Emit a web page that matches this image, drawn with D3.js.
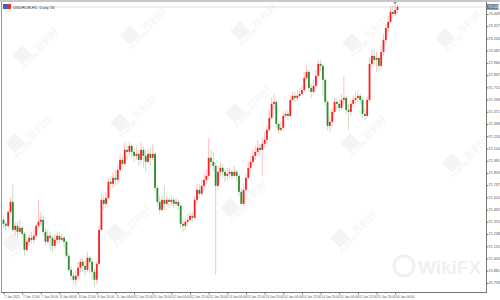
<!DOCTYPE html>
<html>
<head>
<meta charset="utf-8">
<script src="https://cdn.jsdelivr.net/npm/d3@7"></script>
<style>
  body { margin: 0; background: #fff; }
  svg { display: block; font-family: "Liberation Sans Narrow", "Liberation Sans", sans-serif; }
</style>
</head>
<body>
<div id="canvas"></div>
<script>
// USDRUB H1 candles (open = previous close)
var firstOpen = 71.39;
var closes = [71.35,71.33,71.47,71.57,71.29,71.33,71.27,71.31,71.25,71.09,
  71.17,71.21,71.19,71.23,71.33,71.37,71.39,71.27,71.17,71.23,
  71.21,71.13,71.19,71.23,71.19,71.21,71.17,71.03,70.89,70.83,
  70.79,70.83,70.91,70.97,70.93,70.89,71.01,70.97,70.87,70.79,
  70.95,71.29,71.59,71.55,71.61,71.77,71.75,71.81,71.79,71.89,
  71.99,71.95,72.09,72.07,72.13,72.07,72.03,72.05,71.99,72.09,
  72.03,71.97,72.05,72.01,72.05,71.71,71.57,71.49,71.59,71.55,
  71.59,71.57,71.59,71.55,71.57,71.53,71.35,71.33,71.37,71.39,
  71.43,71.41,71.59,71.69,71.65,71.73,71.79,71.83,72.01,71.97,
  71.93,71.73,71.87,71.91,71.87,71.83,71.85,71.87,71.83,71.87,
  71.83,71.67,71.55,71.69,71.81,71.91,71.97,72.03,72.07,72.11,
  72.09,72.15,72.19,72.29,72.41,72.55,72.57,72.35,72.29,72.31,
  72.43,72.45,72.43,72.59,72.63,72.61,72.63,72.65,72.69,72.81,
  72.87,72.71,72.67,72.73,72.83,72.95,72.93,72.79,72.57,72.33,
  72.37,72.47,72.57,72.55,72.51,72.59,72.61,72.49,72.47,72.55,
  72.59,72.61,72.63,72.59,72.45,72.43,72.59,72.95,73.03,72.99,
  73.01,72.93,73.07,73.19,73.31,73.37,73.47,73.45,73.49,73.52];
var highs = [71.43,71.37,71.49,71.61,71.75,71.37,71.37,71.39,71.33,71.27,
  71.21,71.25,71.27,71.29,71.35,71.59,71.47,71.43,71.31,71.29,
  71.27,71.23,71.25,71.27,71.27,71.25,71.23,71.19,71.05,70.93,
  70.87,70.89,70.97,71.01,71.01,70.99,71.07,71.03,71.01,70.91,
  70.97,71.33,71.65,71.63,71.67,71.81,71.83,71.87,71.89,71.95,
  72.05,72.03,72.17,72.13,72.17,72.15,72.11,72.13,72.09,72.17,
  72.13,72.09,72.09,72.11,72.15,72.07,71.73,71.63,71.63,71.73,
  71.63,71.61,71.63,71.61,71.61,71.59,71.55,71.39,71.41,71.45,
  71.47,71.47,71.63,71.75,71.75,71.79,71.85,71.89,72.21,72.09,
  72.07,71.97,71.93,71.97,71.95,71.89,71.91,71.91,71.89,71.93,
  71.89,71.85,71.71,71.75,71.85,71.97,72.03,72.09,72.13,72.19,
  72.15,72.21,72.27,72.33,72.49,72.61,72.65,72.59,72.37,72.37,
  72.47,72.49,72.49,72.63,72.67,72.67,72.69,72.71,72.73,72.87,
  72.93,72.89,72.75,72.79,72.89,72.99,72.99,72.95,72.81,72.59,
  72.43,72.51,72.61,72.61,72.59,72.65,72.83,72.63,72.55,72.59,
  72.63,72.67,72.69,72.65,72.61,72.51,72.63,73.01,73.09,73.09,
  73.07,73.03,73.13,73.25,73.35,73.43,73.53,73.53,73.55,73.54];
var lows = [71.31,71.29,71.31,71.45,71.27,71.23,71.21,71.25,71.21,71.03,
  71.07,71.13,71.15,71.15,71.21,71.31,71.33,71.23,71.13,71.15,
  71.09,71.07,71.11,71.15,71.15,71.17,71.11,71.01,70.87,70.79,
  70.75,70.73,70.79,70.87,70.87,70.83,70.87,70.85,70.79,70.72,
  70.75,70.93,71.27,71.49,71.51,71.59,71.69,71.71,71.73,71.75,
  71.87,71.89,71.93,71.99,72.03,72.01,71.97,71.99,71.93,71.95,
  71.91,71.87,71.95,71.93,71.99,71.67,71.53,71.45,71.47,71.49,
  71.53,71.51,71.53,71.51,71.53,71.49,71.31,71.27,71.29,71.33,
  71.37,71.37,71.39,71.55,71.61,71.63,71.69,71.75,71.79,71.91,
  71.87,70.84,71.69,71.83,71.81,71.77,71.79,71.81,71.79,71.81,
  71.77,71.63,71.53,71.53,71.67,71.79,71.87,71.93,71.99,72.03,
  72.03,71.83,72.11,72.15,72.27,72.39,72.49,72.31,72.25,72.27,
  72.29,72.41,72.39,72.41,72.57,72.57,72.59,72.61,72.63,72.67,
  72.79,72.67,72.61,72.65,72.71,72.81,72.87,72.63,72.53,72.29,
  72.27,72.33,72.45,72.49,72.47,72.49,72.55,72.45,72.29,72.43,
  72.51,72.55,72.57,72.55,72.41,72.39,72.41,72.57,72.91,72.93,
  72.87,72.87,72.91,73.03,73.15,73.27,73.35,73.41,73.43,73.45];

var priceTicks = ["73.449","73.327","73.204","73.082","72.960","72.837","72.715","72.593",
  "72.471","72.348","72.226","72.104","71.981","71.859","71.737","71.614","71.492",
  "71.370","71.248","71.125","71.003","70.881","70.758"];
var timeLabels = ["7 Jan 2021","7 Jan 12:00","7 Jan 20:00","8 Jan 04:00","8 Jan 12:00",
  "8 Jan 20:00","11 Jan 04:00","11 Jan 12:00","11 Jan 20:00","12 Jan 04:00","12 Jan 12:00",
  "12 Jan 20:00","13 Jan 04:00","13 Jan 12:00","13 Jan 20:00","14 Jan 04:00","14 Jan 12:00",
  "14 Jan 20:00","15 Jan 04:00","15 Jan 12:00","15 Jan 20:00","16 Jan 04:00"];
var barsPerLabel = 8;

var width = 500, height = 300;
var plotRight = 486, plotBottom = 292;
var upColor = "#ff1e1e", downColor = "#2e8b2e";

var svg = d3.select("#canvas").append("svg").attr("width", width).attr("height", height);

var x = d3.scaleLinear().domain([0, closes.length - 1]).range([3.5, 397.5]);
var y = d3.scaleLinear().domain([+priceTicks[priceTicks.length - 1], +priceTicks[0]]).range([283, 14]);

// browser clamps tiny font sizes, so draw at double size and scale down
function tiny(parent, tx, ty, str, size, fill) {
    return parent.append("text")
        .attr("transform", "translate(" + tx + "," + ty + ") scale(0.5)")
        .attr("fill", fill)
        .style("font-size", (size * 2) + "px")
        .text(str);
}

// watermarks
var wm = svg.append("g").attr("fill", "#f4f4f4");
var marks = [[32,62],[140,42],[250,38],[362,50],[455,45],[25,150],[130,130],[245,120],[360,150],[462,170],[22,250],[125,240],[240,215],[350,245]];
marks.forEach(function(m) {
    var g = wm.append("g").attr("transform", "translate(" + m[0] + "," + m[1] + ") rotate(-45)");
    g.append("rect").attr("x", -9).attr("y", -19).attr("width", 14).attr("height", 14);
    g.append("text").attr("text-anchor", "middle").style("font-size", "6px").style("font-weight", "bold").text("PLOTIO");
    g.append("text").attr("x", 26).attr("y", -2).attr("text-anchor", "middle").style("font-size", "10px")
        .style("font-family", "Noto Sans CJK SC").text("百利好");
});
svg.append("circle").attr("cx", 404).attr("cy", 266).attr("r", 10).attr("fill", "none").attr("stroke", "#f0f0f0").attr("stroke-width", 3);
svg.append("text").attr("x", 418).attr("y", 274).attr("fill", "#f0f0f0")
    .style("font-family", "Liberation Sans").style("font-size", "19px").style("font-weight", "bold").text("WikiFX");

// frame
svg.append("rect").attr("x", 0).attr("y", 0).attr("width", width).attr("height", 2).attr("fill", "#c8c8c8");
svg.append("line").attr("x1", 1.5).attr("x2", 1.5).attr("y1", 2).attr("y2", plotBottom).attr("stroke", "#9a9a9a").attr("stroke-width", 1);
svg.append("line").attr("x1", 1).attr("x2", plotRight).attr("y1", plotBottom + 0.5).attr("y2", plotBottom + 0.5).attr("stroke", "#777").attr("stroke-width", 1);
svg.append("line").attr("x1", plotRight + 0.5).attr("x2", plotRight + 0.5).attr("y1", 2).attr("y2", plotBottom + 1).attr("stroke", "#777").attr("stroke-width", 1);

// bid line
var last = closes[closes.length - 1];
svg.append("line").attr("x1", 2).attr("x2", plotRight).attr("y1", y(last)).attr("y2", y(last)).attr("stroke", "#c8c8c8").attr("stroke-width", 0.6);

// title
svg.append("rect").attr("x", 3).attr("y", 4).attr("width", 4).attr("height", 5).attr("fill", "#3a5fcd");
svg.append("rect").attr("x", 7).attr("y", 4).attr("width", 4).attr("height", 5).attr("fill", "#e03030");
tiny(svg, 13, 8.5, "USDRUB,H1: Daily 55", 4.2, "#333");

// price axis (tick marks from d3, labels drawn small)
var yAxis = d3.axisRight(y).tickValues(priceTicks.map(Number)).tickSize(2).tickFormat("");
var ya = svg.append("g").attr("transform", "translate(" + (plotRight + 0.5) + ",0)").call(yAxis);
ya.select(".domain").remove();
ya.selectAll("line").attr("stroke", "#777");
priceTicks.forEach(function(t) {
    tiny(svg, plotRight + 2.5, y(+t) + 1.3, t, 3.7, "#555");
});

// current price box
svg.append("rect").attr("x", plotRight + 1).attr("y", y(last) - 2.8).attr("width", 11.5).attr("height", 5.6).attr("fill", "#6b7b8f");
tiny(svg, plotRight + 2, y(last) + 1.3, last.toFixed(3), 3.7, "#fff");
svg.append("path").attr("d", "M393,2 L397,2 L395,4.5 Z").attr("fill", "#999");

// time axis
var labelIdx = timeLabels.map(function(d, i) { return i * barsPerLabel; });
var xAxis = d3.axisBottom(x).tickValues(labelIdx).tickSize(2).tickFormat("");
var xa = svg.append("g").attr("transform", "translate(0," + (plotBottom + 0.5) + ")").call(xAxis);
xa.select(".domain").remove();
xa.selectAll("line").attr("stroke", "#777");
timeLabels.forEach(function(t, i) {
    tiny(svg, x(labelIdx[i]) + 0.8, plotBottom + 6, t, 3.2, "#555");
});

// candles
var bars = closes.map(function(c, i) {
    return { i: i, o: i === 0 ? firstOpen : closes[i - 1], c: c, h: highs[i], l: lows[i] };
});
var g = svg.append("g");
g.selectAll("line.wick").data(bars).enter().append("line").attr("class", "wick")
    .attr("x1", function(d) { return x(d.i); }).attr("x2", function(d) { return x(d.i); })
    .attr("y1", function(d) { return y(d.h); }).attr("y2", function(d) { return y(d.l); })
    .attr("stroke", function(d) { return d.c >= d.o ? upColor : downColor; })
    .attr("stroke-opacity", 0.35).attr("stroke-width", 0.8);
g.selectAll("rect.body").data(bars).enter().append("rect").attr("class", "body")
    .attr("x", function(d) { return x(d.i) - 0.9; }).attr("width", 1.8)
    .attr("y", function(d) { return y(Math.max(d.o, d.c)); })
    .attr("height", function(d) { return Math.max(0.7, Math.abs(y(d.o) - y(d.c))); })
    .attr("fill", function(d) { return d.c >= d.o ? upColor : downColor; });
</script>
</body>
</html>
